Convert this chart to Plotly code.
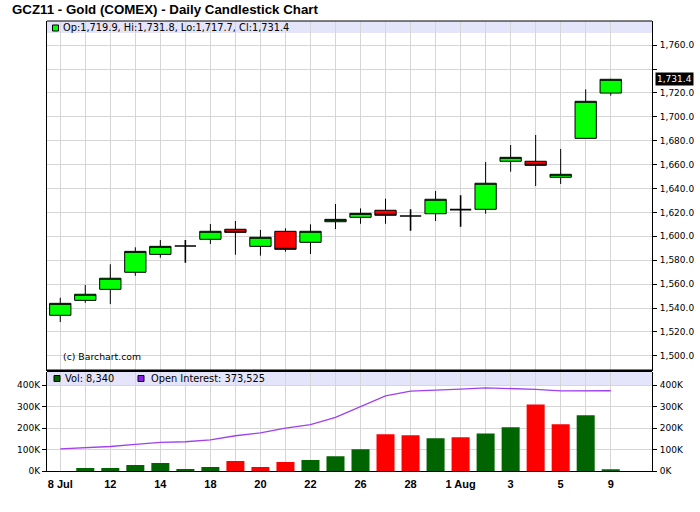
import plotly.graph_objects as go

# ---------------- data ----------------
dates = ["8 Jul", "11 Jul", "12 Jul", "13 Jul", "14 Jul", "15 Jul", "18 Jul", "19 Jul",
         "20 Jul", "21 Jul", "22 Jul", "25 Jul", "26 Jul", "27 Jul", "28 Jul", "29 Jul",
         "1 Aug", "2 Aug", "3 Aug", "4 Aug", "5 Aug", "8 Aug", "9 Aug"]
x_tick_labels = ["8 Jul", "", "12", "", "14", "", "18", "", "20", "", "22", "",
                 "26", "", "28", "", "1 Aug", "", "3", "", "5", "", "9"]
opens = [1533.9, 1546.4, 1555.6, 1569.9, 1584.9, 1591.9, 1597.5, 1605.9, 1591.6, 1604.2,
         1595.0, 1612.2, 1615.9, 1621.8, 1617.0, 1618.9, 1622.3, 1622.6, 1662.8, 1662.8,
         1649.4, 1682.0, 1719.9]
highs = [1548.6, 1559.2, 1576.6, 1590.8, 1596.9, 1596.9, 1610.3, 1612.8, 1605.3, 1606.7,
         1610.0, 1627.0, 1623.4, 1631.5, 1622.6, 1637.9, 1634.3, 1662.2, 1676.4, 1684.8,
         1673.1, 1723.0, 1731.8]
lows = [1528.3, 1544.4, 1543.3, 1567.0, 1582.1, 1577.9, 1593.6, 1584.6, 1583.8, 1587.1,
        1585.2, 1606.1, 1610.5, 1610.5, 1604.7, 1612.8, 1608.0, 1618.9, 1654.1, 1642.1,
        1643.8, 1682.0, 1717.7]
closes = [1543.9, 1551.5, 1564.9, 1587.4, 1591.6, 1591.9, 1604.2, 1603.3, 1599.2, 1589.1,
          1604.2, 1614.2, 1619.2, 1617.6, 1617.0, 1631.0, 1622.3, 1644.4, 1666.1, 1659.4,
          1651.9, 1713.0, 1731.4]
volumes = [0, 14000, 14000, 28000, 37000, 9000, 19000, 46000, 19000, 42000, 51000, 69000,
           101000, 171000, 166000, 152000, 157000, 175000, 203000, 310000, 217000, 259000, 8340]
open_interest = [103000, 108000, 114000, 124000, 133000, 136000, 145000, 164000, 177000,
                 199000, 216000, 250000, 301000, 350000, 372000, 375000, 381000, 387000,
                 384000, 380000, 373000, 373000, 373525]
price_ticks = [1500, 1520, 1540, 1560, 1580, 1600, 1620, 1640, 1660, 1680, 1700, 1720, 1740, 1760]
price_tick_labels = ["1,500.0", "1,520.0", "1,540.0", "1,560.0", "1,580.0", "1,600.0", "1,620.0",
                     "1,640.0", "1,660.0", "1,680.0", "1,700.0", "1,720.0", "", "1,760.0"]
vol_ticks = [0, 100000, 200000, 300000, 400000]
vol_tick_labels = ["0K", "100K", "200K", "300K", "400K"]

title_text = "GCZ11 - Gold (COMEX) - Daily Candlestick Chart"

# ---------------- layout geometry ----------------
W, H = 700, 512
L, R, T, B = 47, 48, 21, 41
PW = W - L - R
PH = H - T - B


def px(x):
    return (x - L) / PW


def py(y):
    return (H - B - y) / PH


idx = list(range(len(dates)))
GRID = "#d6d6d6"
TICKFONT = dict(family="DejaVu Sans", size=9, color="#000000")

fig = go.Figure()

# candles: up, down, unchanged
groups = [
    (lambda o, c: c > o, "#00ff00", 1),
    (lambda o, c: c < o, "#ff0000", 1),
    (lambda o, c: c == o, "#000000", 1.6),
]
for cond, fill, lw in groups:
    ids = [i for i in idx if cond(opens[i], closes[i])]
    fig.add_trace(go.Candlestick(
        x=ids,
        open=[opens[i] for i in ids],
        high=[highs[i] for i in ids],
        low=[lows[i] for i in ids],
        close=[closes[i] for i in ids],
        increasing=dict(fillcolor=fill, line=dict(color="#000000", width=lw)),
        decreasing=dict(fillcolor=fill, line=dict(color="#000000", width=lw)),
        whiskerwidth=0,
        xaxis="x", yaxis="y", showlegend=False, hoverinfo="skip",
    ))

# volume bars coloured by change of close
vol_colors = ["#006400"] + ["#006400" if closes[i] >= closes[i - 1] else "#ff0000"
                            for i in idx[1:]]
fig.add_trace(go.Bar(
    x=idx, y=volumes, marker=dict(color=vol_colors, line=dict(width=0)),
    width=0.72, xaxis="x2", yaxis="y2", showlegend=False, hoverinfo="skip",
))

fig.add_trace(go.Scatter(
    x=idx, y=open_interest, mode="lines",
    line=dict(color="#a040f0", width=1.3),
    xaxis="x2", yaxis="y3", showlegend=False, hoverinfo="skip",
))

xrange = [-0.53, 23.65]
main_dom = [py(370.5), 1]
vol_dom = [0, py(371.5)]

fig.update_layout(
    width=W, height=H,
    margin=dict(l=L, r=R, t=T, b=B, pad=0, autoexpand=False),
    paper_bgcolor="#ffffff", plot_bgcolor="#ffffff",
    showlegend=False,
    boxgap=0.1, boxgroupgap=0.055,
    xaxis=dict(domain=[0, 1], anchor="y", range=xrange, tickvals=idx, automargin=False,
               showticklabels=False, ticks="", showgrid=True, gridcolor=GRID,
               gridwidth=1, zeroline=False, showline=False,
               rangeslider=dict(visible=False)),
    xaxis2=dict(domain=[0, 1], anchor="y2", range=xrange, matches="x", tickvals=idx,
                ticktext=x_tick_labels, ticks="", ticklabelstandoff=3, automargin=False,
                tickfont=dict(family="Liberation Sans", size=11, color="#000000", weight="bold"),
                showgrid=True, gridcolor=GRID, gridwidth=1, zeroline=False,
                showline=True, linecolor="#000000", linewidth=1,
                rangeslider=dict(visible=False)),
    yaxis=dict(domain=main_dom, anchor="x", side="right", range=[1487.7, 1780.2],
               tickvals=price_ticks, ticktext=price_tick_labels, tickfont=TICKFONT,
               ticks="outside", ticklen=4, tickcolor="#000000", ticklabelstandoff=1,
               automargin=False,
               showgrid=True, gridcolor=GRID, gridwidth=1, zeroline=False,
               showline=True, linecolor="#000000", linewidth=1, mirror=True),
    yaxis2=dict(domain=vol_dom, anchor="x2", side="right", range=[0, 463000],
                tickvals=vol_ticks, ticktext=vol_tick_labels, tickfont=TICKFONT,
                ticks="outside", ticklen=4, tickcolor="#000000", ticklabelstandoff=1,
                automargin=False,
                showgrid=True, gridcolor=GRID, gridwidth=1, zeroline=False,
                showline=True, linecolor="#000000", linewidth=1, mirror=True),
    yaxis3=dict(overlaying="y2", anchor="x2", side="left", range=[0, 463000],
                tickvals=vol_ticks, ticktext=vol_tick_labels, tickfont=TICKFONT,
                ticks="outside", ticklen=4, tickcolor="#000000", automargin=False,
                showgrid=False, zeroline=False, showline=False),
)

shapes = [
    # legend bands
    dict(type="rect", xref="paper", yref="paper", x0=0, x1=1, y0=py(33), y1=1,
         fillcolor="#e4e4fa", line=dict(width=0), layer="below"),
    dict(type="rect", xref="paper", yref="paper", x0=0, x1=1, y0=py(385), y1=py(371.5),
         fillcolor="#e4e4fa", line=dict(width=0), layer="below"),
    # top border and panel separator
    dict(type="line", xref="paper", yref="paper", x0=0, x1=1, y0=1, y1=1,
         line=dict(color="#000000", width=1)),
    dict(type="line", xref="paper", yref="paper", x0=0, x1=1, y0=py(370.8), y1=py(370.8),
         line=dict(color="#000000", width=2.5)),
    # legend squares
    dict(type="rect", xref="paper", yref="paper", x0=px(52.5), x1=px(58.5), y0=py(31), y1=py(25),
         fillcolor="#00ff00", line=dict(color="#000000", width=1)),
    dict(type="rect", xref="paper", yref="paper", x0=px(54), x1=px(60), y0=py(381.5), y1=py(375.5),
         fillcolor="#006400", line=dict(color="#000000", width=1)),
    dict(type="rect", xref="paper", yref="paper", x0=px(138), x1=px(144), y0=py(381.5), y1=py(375.5),
         fillcolor="#8a1cf0", line=dict(color="#000000", width=1)),
]
fig.update_layout(shapes=shapes)

LEGFONT = dict(family="DejaVu Sans", size=9.8, color="#000000")
annotations = [
    dict(text="<b>" + title_text + "</b>", xref="paper", yref="paper",
         x=px(10), y=py(9.5), xanchor="left", yanchor="middle", showarrow=False,
         font=dict(family="Liberation Sans", size=13.3, color="#000000")),
    dict(text=f"Op:{opens[-1]:,.1f}, Hi:{highs[-1]:,.1f}, Lo:{lows[-1]:,.1f}, Cl:{closes[-1]:,.1f}",
         xref="paper", yref="paper", x=px(61), y=py(28), xanchor="left", yanchor="middle",
         showarrow=False, font=LEGFONT),
    dict(text="(c) Barchart.com", xref="paper", yref="paper", x=px(60.5), y=py(357),
         xanchor="left", yanchor="middle", showarrow=False,
         font=dict(family="DejaVu Sans", size=9.3, color="#000000")),
    dict(text=f"Vol: {volumes[-1]:,}", xref="paper", yref="paper", x=px(62.5), y=py(378.5),
         xanchor="left", yanchor="middle", showarrow=False, font=LEGFONT),
    dict(text=f"Open Interest: {open_interest[-1]:,}", xref="paper", yref="paper",
         x=px(148.5), y=py(378.5), xanchor="left", yanchor="middle", showarrow=False,
         font=LEGFONT),
    dict(text=f"{closes[-1]:,.1f}", xref="paper", yref="y", x=1, y=closes[-1],
         xanchor="left", yanchor="middle", xshift=3, showarrow=False,
         bgcolor="#000000", borderpad=1,
         font=dict(family="DejaVu Sans", size=9, color="#ffffff")),
]
fig.update_layout(annotations=annotations)

fig.write_html(
    "out.html",
    config={"displayModeBar": False},
    post_script="document.body.style.margin='0';document.body.style.padding='0';",
)
